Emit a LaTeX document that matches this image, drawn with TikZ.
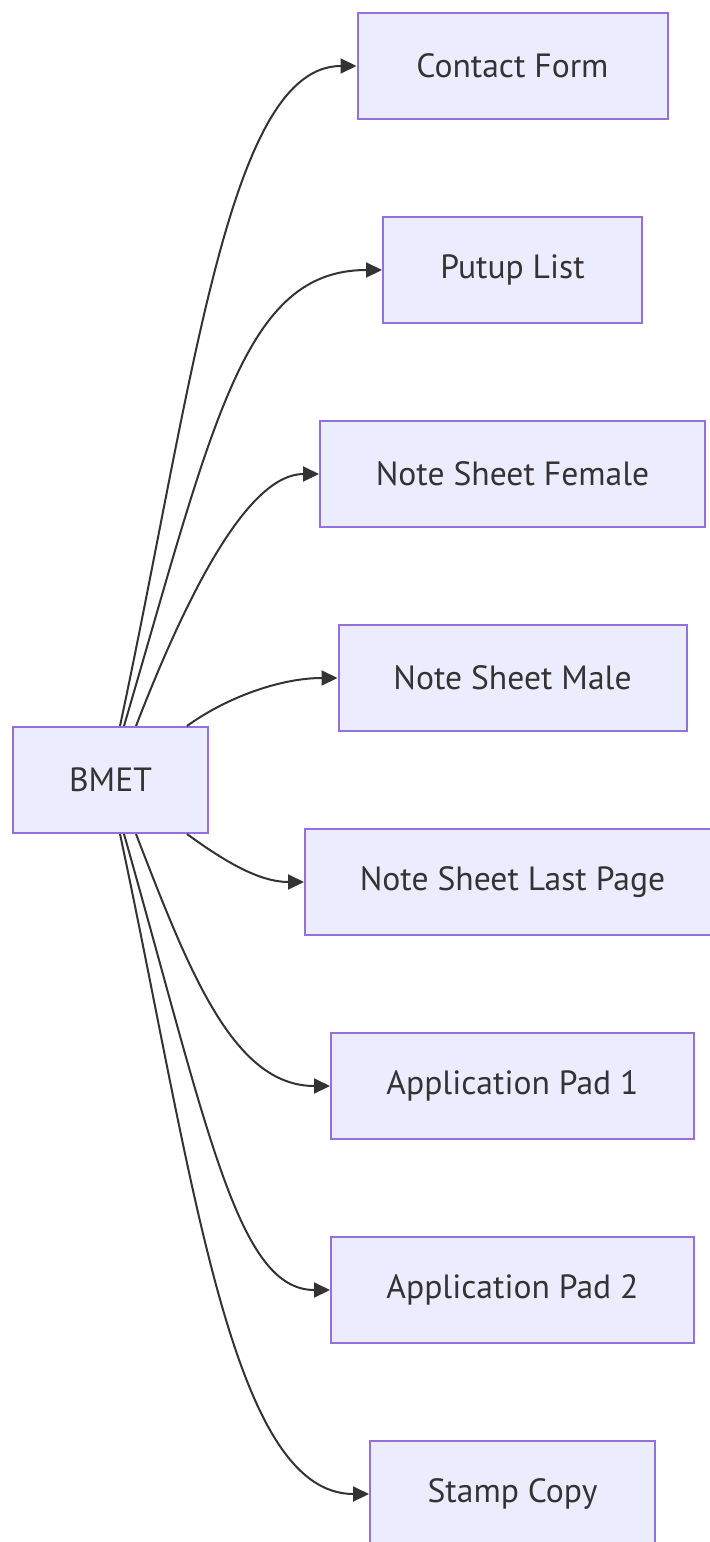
\documentclass[tikz,border=0pt]{standalone}
\usepackage{fontspec}
\setmainfont{PT Sans}
\usetikzlibrary{arrows.meta}
\definecolor{boxfill}{HTML}{ECECFF}
\definecolor{boxline}{HTML}{9370DB}
\definecolor{ink}{HTML}{333333}

\begin{document}
\begin{tikzpicture}[x=0.5pt, y=-0.5pt,
    doc/.style={draw=boxline, fill=boxfill, line width=1pt, text=ink,
        minimum height=53pt, inner sep=0pt, font=\fontsize{16.8}{20}\selectfont},
    flow/.style={draw=ink, line width=1pt, -{Triangle[length=8pt, width=7.5pt]}}]
    \useasboundingbox (0,0) rectangle (709,1542);

    \node[doc, minimum width=97.5pt] (bmet) at (110.5,780) {BMET};
    \foreach \nm/\yy/\ww/\txt in {contact/66/155pt/Contact Form,
            putup/270/129.5pt/Putup List,
            female/474/192.5pt/Note Sheet Female,
            male/678/174pt/Note Sheet Male,
            lastpage/882/207.5pt/Note Sheet Last Page,
            padone/1086/181.5pt/Application Pad 1,
            padtwo/1290/181.5pt/Application Pad 2,
            stamp/1494/142.5pt/Stamp Copy} {
        \node[doc, minimum width=\ww] (\nm) at (512.5,\yy) {\txt};
    }

    % upper fan
    \draw[flow] ([xshift=54pt]bmet.north west) .. controls +(74,-347) and +(-128,0) .. (contact.west);
    \draw[flow] ([xshift=56pt]bmet.north west) .. controls +(90,-307) and +(-138,0) .. (putup.west);
    \draw[flow] ([xshift=62pt]bmet.north west) .. controls +(53,-137) and +(-70,0) .. (female.west);
    \draw[flow] ([xshift=87.5pt]bmet.north west) .. controls +(37,-27) and +(-59,0) .. (male.west);
    % lower fan
    \draw[flow] ([xshift=87.5pt]bmet.south west) .. controls +(37,27) and +(-45,0) .. (lastpage.west);
    \draw[flow] ([xshift=62pt]bmet.south west) .. controls +(53,137) and +(-97,0) .. (padone.west);
    \draw[flow] ([xshift=56pt]bmet.south west) .. controls +(85,300) and +(-92,0) .. (padtwo.west);
    \draw[flow] ([xshift=54pt]bmet.south west) .. controls +(74,347) and +(-138,0) .. (stamp.west);
\end{tikzpicture}
\end{document}
